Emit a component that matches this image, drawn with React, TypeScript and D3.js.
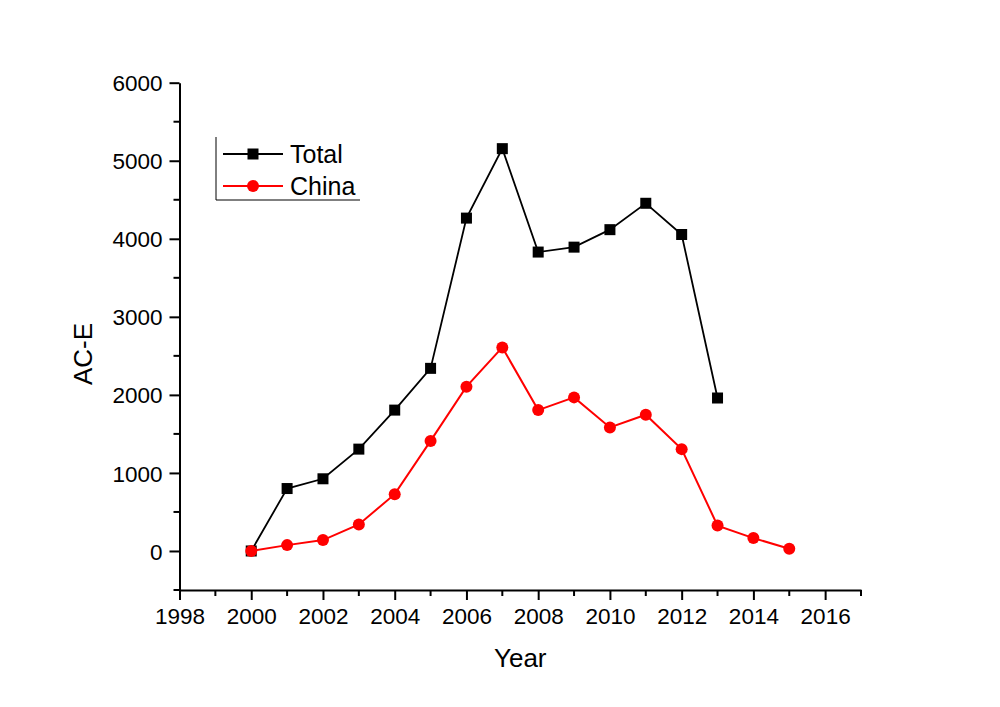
import React, { useRef, useEffect } from 'react';
import * as d3 from 'd3';

const totalYears = [2000, 2001, 2002, 2003, 2004, 2005, 2006, 2007, 2008, 2009, 2010, 2011, 2012, 2013];
const totalValues = [0, 800, 925, 1305, 1805, 2340, 4265, 5155, 3830, 3893, 4117, 4455, 4055, 1960];

const chinaYears = [2000, 2001, 2002, 2003, 2004, 2005, 2006, 2007, 2008, 2009, 2010, 2011, 2012, 2013, 2014, 2015];
const chinaValues = [0, 75, 140, 340, 728, 1410, 2105, 2608, 1805, 1968, 1583, 1746, 1305, 325, 165, 28];

const xTicks = [1998, 2000, 2002, 2004, 2006, 2008, 2010, 2012, 2014, 2016];
const yTicks = [0, 1000, 2000, 3000, 4000, 5000, 6000];

const legendLabels = ['Total', 'China'];

function App() {
  const rootRef = useRef<SVGSVGElement>(null);
  const width = 1000;
  const height = 707;
  const margin = { top: 82.7, right: 139, bottom: 117, left: 179.5 };

  useEffect(() => {
    const root = d3.select(rootRef.current);
    root.selectAll('*').remove();

    const font = '"Liberation Sans", Arial, sans-serif';

    const x = d3.scaleLinear()
      .domain([1998, 2017])
      .range([margin.left, width - margin.right]);

    const y = d3.scaleLinear()
      .domain([-500, 6000])
      .range([height - margin.bottom, margin.top]);

    // minor ticks
    const xMinor = d3.range(1999, 2018, 2);
    const yMinor = d3.range(-500, 6000, 1000);

    const xAxis = root.append('g')
      .attr('transform', `translate(0,${height - margin.bottom})`)
      .call(d3.axisBottom(x).tickValues(xTicks).tickFormat(d3.format('d')).tickSize(10).tickSizeOuter(0));
    xAxis.append('g').selectAll('line').data(xMinor).join('line')
      .attr('x1', d => x(d)).attr('x2', d => x(d))
      .attr('y1', 0).attr('y2', 6)
      .attr('stroke', '#000').attr('stroke-width', 2);

    const yAxis = root.append('g')
      .attr('transform', `translate(${margin.left},0)`)
      .call(d3.axisLeft(y).tickValues(yTicks).tickFormat(d3.format('d')).tickSize(10).tickSizeOuter(0));
    yAxis.append('g').selectAll('line').data(yMinor).join('line')
      .attr('y1', d => y(d)).attr('y2', d => y(d))
      .attr('x1', 0).attr('x2', -6)
      .attr('stroke', '#000').attr('stroke-width', 2);

    [xAxis, yAxis].forEach(g => {
      g.select('.domain').attr('stroke', '#000').attr('stroke-width', 2);
      g.selectAll('.tick line').attr('stroke', '#000').attr('stroke-width', 2);
      g.selectAll('.tick text')
        .attr('font-family', font)
        .attr('font-size', 22.5)
        .attr('fill', '#000');
    });
    xAxis.selectAll('.tick text').attr('y', 34).attr('dy', 0);
    yAxis.selectAll('.tick text').attr('x', -17).attr('dy', '0.36em');

    // axis titles
    root.append('text')
      .attr('x', (x(1998) + x(2017)) / 2)
      .attr('y', 667)
      .attr('text-anchor', 'middle')
      .attr('font-family', font)
      .attr('font-size', 26)
      .text('Year');

    root.append('text')
      .attr('transform', `translate(92,354) rotate(-90)`)
      .attr('text-anchor', 'middle')
      .attr('font-family', font)
      .attr('font-size', 26)
      .text('AC-E');

    const line = d3.line<[number, number]>()
      .x(d => x(d[0]))
      .y(d => y(d[1]));

    const totalData: [number, number][] = totalYears.map((yr, i) => [yr, totalValues[i]]);
    const chinaData: [number, number][] = chinaYears.map((yr, i) => [yr, chinaValues[i]]);

    root.append('path')
      .datum(totalData)
      .attr('d', line)
      .attr('fill', 'none')
      .attr('stroke', '#000')
      .attr('stroke-width', 1.8);

    root.append('g').selectAll('rect').data(totalData).join('rect')
      .attr('x', d => x(d[0]) - 5.5)
      .attr('y', d => y(d[1]) - 5.5)
      .attr('width', 11)
      .attr('height', 11)
      .attr('fill', '#000');

    root.append('path')
      .datum(chinaData)
      .attr('d', line)
      .attr('fill', 'none')
      .attr('stroke', '#ff0000')
      .attr('stroke-width', 2);

    root.append('g').selectAll('circle').data(chinaData).join('circle')
      .attr('cx', d => x(d[0]))
      .attr('cy', d => y(d[1]))
      .attr('r', 6)
      .attr('fill', '#ff0000');

    // legend
    const lg = root.append('g');
    lg.append('path')
      .attr('d', 'M216,137 L216,200 L360,200')
      .attr('fill', 'none')
      .attr('stroke', '#000')
      .attr('stroke-width', 1);

    const colors = ['#000', '#ff0000'];
    legendLabels.forEach((lbl, i) => {
      const ly = 154 + i * 32;
      lg.append('line')
        .attr('x1', 223).attr('x2', 283)
        .attr('y1', ly).attr('y2', ly)
        .attr('stroke', colors[i])
        .attr('stroke-width', i === 0 ? 1.8 : 2.2);
      if (i === 0) {
        lg.append('rect').attr('x', 247.5).attr('y', ly - 5.5).attr('width', 11).attr('height', 11).attr('fill', '#000');
      } else {
        lg.append('circle').attr('cx', 253).attr('cy', ly).attr('r', 6).attr('fill', '#ff0000');
      }
      lg.append('text')
        .attr('x', 290)
        .attr('y', ly + 9)
        .attr('font-family', font)
        .attr('font-size', 25)
        .text(lbl);
    });
  });

  return (
    <svg
      ref={rootRef}
      width={width}
      height={height}
      style={{ position: 'absolute', left: 0, top: 0, background: '#fff' }}
    />
  );
}

export default App;
